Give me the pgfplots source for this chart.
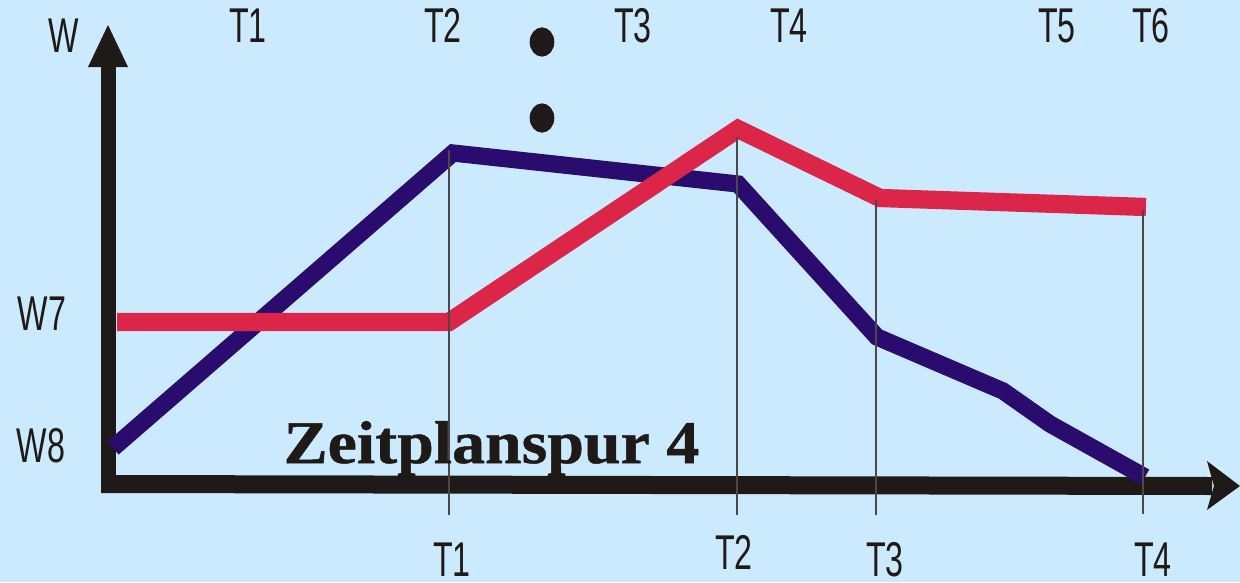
\documentclass[border=0pt]{standalone}
\usepackage{pgfplots}
\pgfplotsset{compat=1.18}
\usepackage{fontspec}
\setmainfont{Liberation Sans}
\newfontfamily\labfont[FakeStretch=0.66]{Liberation Sans}
\newfontfamily\titlefont[FakeStretch=1.09,FakeBold=0.8]{Liberation Serif Bold}

\definecolor{bgblue}{HTML}{CCEAFE}
\definecolor{lineblue}{HTML}{2A0C6E}
\definecolor{linered}{HTML}{DC2649}
\definecolor{ink}{HTML}{1F1A17}

\begin{document}
\begin{tikzpicture}
\useasboundingbox (0,0) rectangle (12.4,5.82);
\fill[bgblue] (0,0) rectangle (12.4,5.82);
\begin{axis}[
    at={(0,0)}, anchor=south west,
    width=12.4cm, height=5.82cm, scale only axis,
    hide axis, clip=false,
    xmin=0, xmax=1240, ymin=0, ymax=582, y dir=reverse,
    every axis plot/.append style={line cap=butt, line join=miter},
]
% axes drawn as thick arrows
\fill[ink] (axis cs:101,67) rectangle (axis cs:116,490);
\fill[ink] (axis cs:108,25) -- (axis cs:128,67) -- (axis cs:88,67) -- cycle;
\fill[ink] (axis cs:101,475) -- (axis cs:1212,477) -- (axis cs:1212,495) -- (axis cs:101,493) -- cycle;
\fill[ink] (axis cs:1240,486) -- (axis cs:1207,461) -- (axis cs:1214,486) -- (axis cs:1207,510) -- cycle;

% series
\addplot[lineblue, line width=4.9pt, no markers] coordinates {
    (113,448) (453,153) (738,184) (877,337) (1003,391) (1050,424) (1145,477)
};
\addplot[linered, line width=5.2pt, no markers] coordinates {
    (117,322) (449,322) (738,129) (880,198) (1146,207)
};
\addplot[ink, only marks, mark=*, mark size=3.3pt, mark options={yscale=1.2}]
    coordinates {(542,42) (542,118)};

% thin guide lines
\draw[ink!80, line width=0.35pt] (axis cs:449,150) -- (axis cs:449,515);
\draw[ink!80, line width=0.35pt] (axis cs:737,137) -- (axis cs:737,515);
\draw[ink!80, line width=0.35pt] (axis cs:876,200) -- (axis cs:876,515);
\draw[ink!80, line width=0.35pt] (axis cs:1143,210) -- (axis cs:1143,514);

% labels
\tikzset{lab/.style={anchor=base, inner sep=0pt, text=ink, font=\labfont\fontsize{13.9}{14}\selectfont}}
\node[lab] at (axis cs:248,42) {T1};
\node[lab] at (axis cs:443,42) {T2};
\node[lab] at (axis cs:633,42) {T3};
\node[lab] at (axis cs:789,42) {T4};
\node[lab] at (axis cs:1057,42) {T5};
\node[lab] at (axis cs:1151,42) {T6};
\node[lab] at (axis cs:64,52) {W};
\node[lab] at (axis cs:42,330) {W7};
\node[lab] at (axis cs:41,462) {W8};
\node[lab] at (axis cs:452,576) {T1};
\node[lab] at (axis cs:734,569) {T2};
\node[lab] at (axis cs:885,576) {T3};
\node[lab] at (axis cs:1153,576) {T4};
\node[anchor=base west, inner sep=0pt, text=ink, font=\titlefont\fontsize{17.2}{18}\selectfont]
    at (axis cs:283,463) {Zeitplanspur 4};
\end{axis}
\end{tikzpicture}
\end{document}
